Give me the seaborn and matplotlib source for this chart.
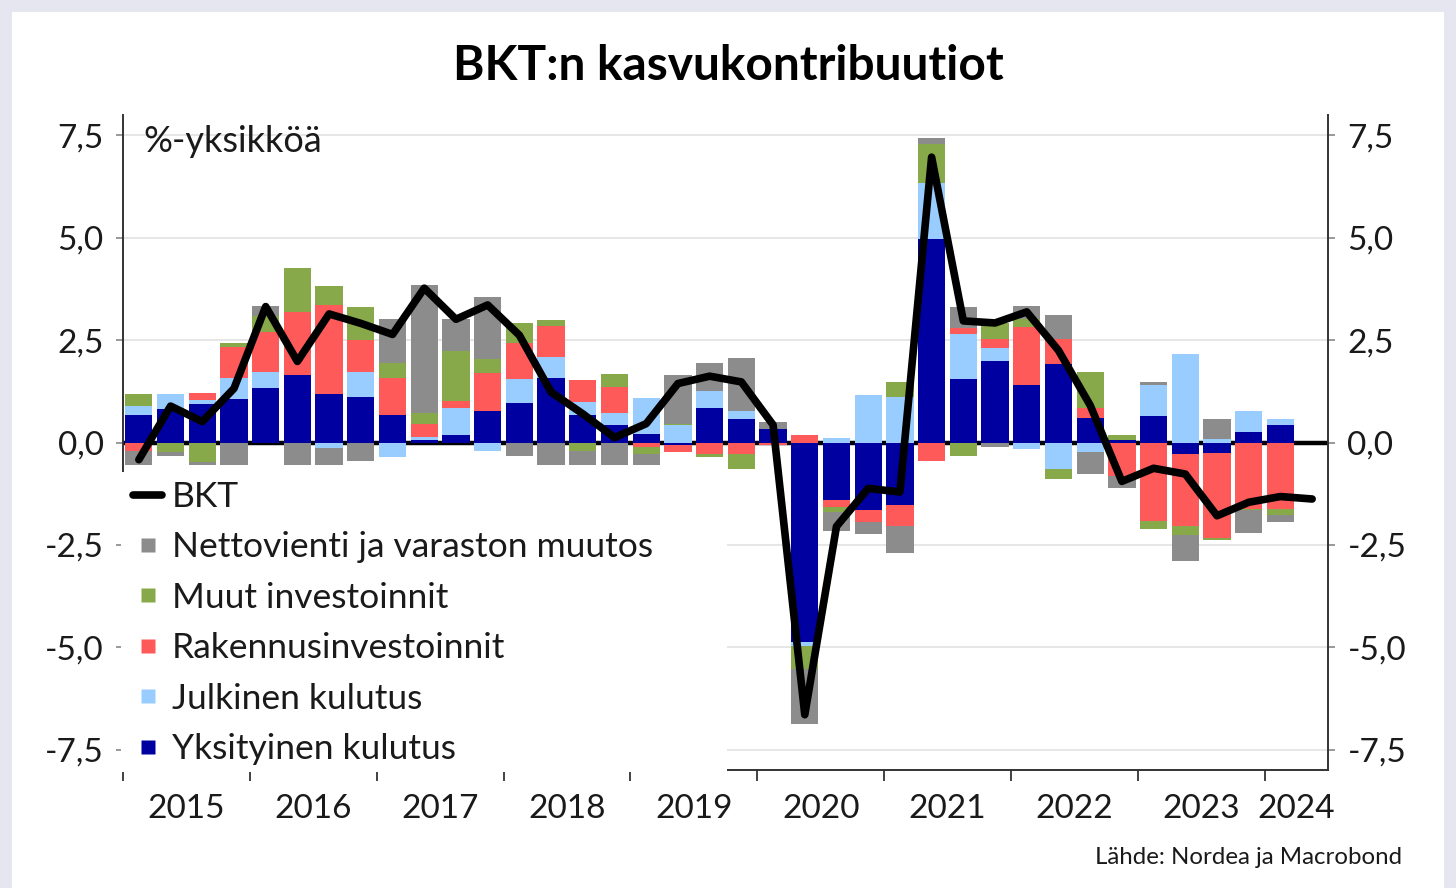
import numpy as np
import pandas as pd
import matplotlib
matplotlib.use("Agg")
import matplotlib.pyplot as plt
import seaborn as sns
from matplotlib.lines import Line2D
from matplotlib.patches import Rectangle

# ---------------- data ----------------
quarters = [f"{y}Q{q}" for y in range(2015, 2025) for q in range(1, 5)][:38]
years = ["2015", "2016", "2017", "2018", "2019", "2020", "2021", "2022", "2023", "2024"]

yksityinen = [0.68, 0.81, 0.93, 1.07, 1.32, 1.64, 1.19, 1.11, 0.68, 0.05,
              0.19, 0.78, 0.97, 1.58, 0.66, 0.42, 0.21, -0.07, 0.85, 0.57,
              0.33, -4.87, -1.40, -1.65, -1.53, 4.96, 1.56, 1.99, 1.40, 1.91,
              0.60, 0.07, 0.65, -0.29, -0.26, 0.25, 0.42]
julkinen = [0.20, 0.38, 0.12, 0.51, 0.39, 0.00, -0.14, 0.61, -0.36, 0.08,
            0.65, -0.20, 0.59, 0.51, 0.33, 0.30, 0.88, 0.43, 0.40, 0.21,
            0.00, -0.11, 0.11, 1.15, 1.10, 1.37, 1.10, 0.33, -0.16, -0.65,
            -0.22, 0.00, 0.76, 2.16, 0.09, 0.52, 0.16]
rakennus = [-0.20, 0.00, 0.16, 0.76, 0.98, 1.54, 2.17, 0.78, 0.90, 0.33,
            0.17, 0.92, 0.86, 0.75, 0.53, 0.64, -0.10, -0.17, -0.28, -0.27,
            -0.07, 0.19, -0.17, -0.29, -0.50, -0.45, 0.14, 0.22, 1.41, 0.61,
            0.24, -0.83, -1.91, -1.76, -2.08, -1.63, -1.63]
muut = [0.31, -0.24, -0.47, 0.08, 0.40, 1.08, 0.47, 0.80, 0.37, 0.27,
        1.22, 0.33, 0.50, 0.15, -0.21, 0.32, -0.18, 0.03, -0.08, -0.37,
        0.00, -0.55, -0.12, 0.00, 0.38, 0.97, -0.33, 0.37, 0.20, -0.24,
        0.88, 0.12, -0.21, -0.21, -0.04, -0.02, -0.13]
nettovienti = [-0.35, -0.08, -0.08, -0.55, 0.25, -0.55, -0.41, -0.44, 1.06, 3.12,
               0.78, 1.53, -0.34, -0.54, -0.33, -0.54, -0.26, 1.20, 0.69, 1.29,
               0.18, -1.34, -0.46, -0.30, -0.67, 0.14, 0.50, -0.11, 0.32, 0.59,
               -0.55, -0.28, 0.07, -0.63, 0.49, -0.57, -0.18]
bkt = [-0.42, 0.89, 0.51, 1.32, 3.32, 1.98, 3.14, 2.91, 2.64, 3.77,
       3.01, 3.36, 2.62, 1.23, 0.70, 0.12, 0.46, 1.44, 1.62, 1.48,
       0.43, -6.65, -2.05, -1.12, -1.21, 6.97, 2.97, 2.92, 3.19, 2.25,
       0.91, -0.95, -0.63, -0.77, -1.79, -1.46, -1.32, -1.38]

series_names = ["Yksityinen kulutus", "Julkinen kulutus", "Rakennusinvestoinnit",
                "Muut investoinnit", "Nettovienti ja varaston muutos"]
series_vals = [yksityinen, julkinen, rakennus, muut, nettovienti]
series_colors = ["#0000a0", "#99ccff", "#ff5a5a", "#88a94a", "#8c8c8c"]

yticks = [-7.5, -5.0, -2.5, 0.0, 2.5, 5.0, 7.5]

# ---------------- style ----------------
sns.set_theme(style="white")
plt.rcParams['font.family'] = ['Lato', 'DejaVu Sans']
TXT = "#1a1a1a"

W, H = 1456, 888
fig = plt.figure(figsize=(W / 100, H / 100), dpi=100, facecolor="#e6e6f0")
fig.add_artist(Rectangle((12 / W, 0), (1444 - 12) / W, 1 - 12 / H,
                         transform=fig.transFigure, facecolor="white",
                         edgecolor="none", zorder=-5))
ax = fig.add_axes([123 / W, 1 - 770 / H, (1328 - 123) / W, (770 - 115) / H])
ax.set_facecolor("white")

# ---------------- bars ----------------
nb = len(yksityinen)
idx = np.arange(nb)
pos_bottom = np.zeros(nb)
neg_bottom = np.zeros(nb)
for name, vals, col in zip(series_names, series_vals, series_colors):
    v = np.asarray(vals, dtype=float)
    pos = np.clip(v, 0, None)
    neg = np.clip(v, None, 0)
    for part, base in ((pos, pos_bottom), (neg, neg_bottom)):
        df = pd.DataFrame({"q": idx, "v": part})
        sns.barplot(data=df, x="q", y="v", native_scale=True, width=0.86,
                    color=col, saturation=1, errorbar=None, ax=ax,
                    bottom=base.copy(), linewidth=0, edgecolor="none", zorder=3)
    pos_bottom += pos
    neg_bottom += neg

# zero line
ax.axhline(0, color="black", lw=3.2, zorder=2)

# GDP line
sns.lineplot(x=np.arange(len(bkt)), y=bkt, color="black", lw=5.5, ax=ax,
             zorder=6, legend=False, solid_joinstyle="round")

# ---------------- axes ----------------
ax.set_xlim(-0.5, len(bkt) - 0.5)
ax.set_ylim(-8, 8)
ax.set_xlabel("")
ax.set_ylabel("")
ax.set_yticks(yticks)
ax.set_yticklabels([f"{t:.1f}".replace(".", ",") for t in yticks])
ax.yaxis.grid(True, color="#e4e4e4", lw=1.3)
ax.xaxis.grid(False)
ax.set_axisbelow(True)

ax.set_xticks(np.arange(-0.5, len(bkt) - 1, 4))
ax.set_xticklabels([])
year_centers = [4 * k + 1.5 for k in range(9)] + [36.5]
ax.set_xticks(year_centers, minor=True)
ax.set_xticklabels(years, minor=True)
ax.tick_params(axis="x", which="major", length=8, width=1.3, color="#333333",
               direction="out", bottom=True)
ax.tick_params(axis="x", which="minor", length=0, pad=17, labelsize=24,
               labelcolor=TXT, bottom=True)
ax.tick_params(axis="y", which="major", left=True, right=True, labelleft=True,
               labelright=True, length=5, width=1.2, color="#888888",
               pad=9, labelsize=24, labelcolor=TXT, direction="out")

for side in ["left", "right", "bottom"]:
    ax.spines[side].set_color("#333333")
    ax.spines[side].set_linewidth(1.4)
ax.spines["top"].set_visible(False)

# white box behind legend (covers the lower-left area)
ax.add_patch(Rectangle((-0.0015, -0.003), 0.5025, 0.458, transform=ax.transAxes,
                       facecolor="white", edgecolor="none", zorder=4.5,
                       clip_on=False))

# unit label
ax.text((143 - 123) / 1205, (770 - 141) / 655, "%-yksikköä", transform=ax.transAxes,
        ha="left", va="center", fontsize=26, color=TXT, zorder=7)

# legend
handles = [Line2D([0], [0], color="black", lw=5.5)]
labels = ["BKT"]
for name, col in list(zip(series_names, series_colors))[::-1]:
    handles.append(Line2D([0], [0], marker="s", linestyle="none", markersize=10,
                          markerfacecolor=col, markeredgecolor="none"))
    labels.append(name)
leg = ax.legend(handles, labels, loc="upper left",
                bbox_to_anchor=(133 / W, 1 - 481 / H), bbox_transform=fig.transFigure,
                frameon=False, borderpad=0, borderaxespad=0, handlelength=0.82,
                handletextpad=0.28, labelspacing=0.52, fontsize=25.5)
leg.set_zorder(8)
for t in leg.get_texts():
    t.set_color(TXT)

# title and source
fig.text(0.5, 1 - 66 / H, "BKT:n kasvukontribuutiot", ha="center", va="center",
         fontsize=34.5, fontweight="bold", color="black")
fig.text(1402 / W, 1 - 857 / H, "Lähde: Nordea ja Macrobond", ha="right",
         va="center", fontsize=17.3, color=TXT)

fig.savefig("out.png", dpi=100, facecolor=fig.get_facecolor())
